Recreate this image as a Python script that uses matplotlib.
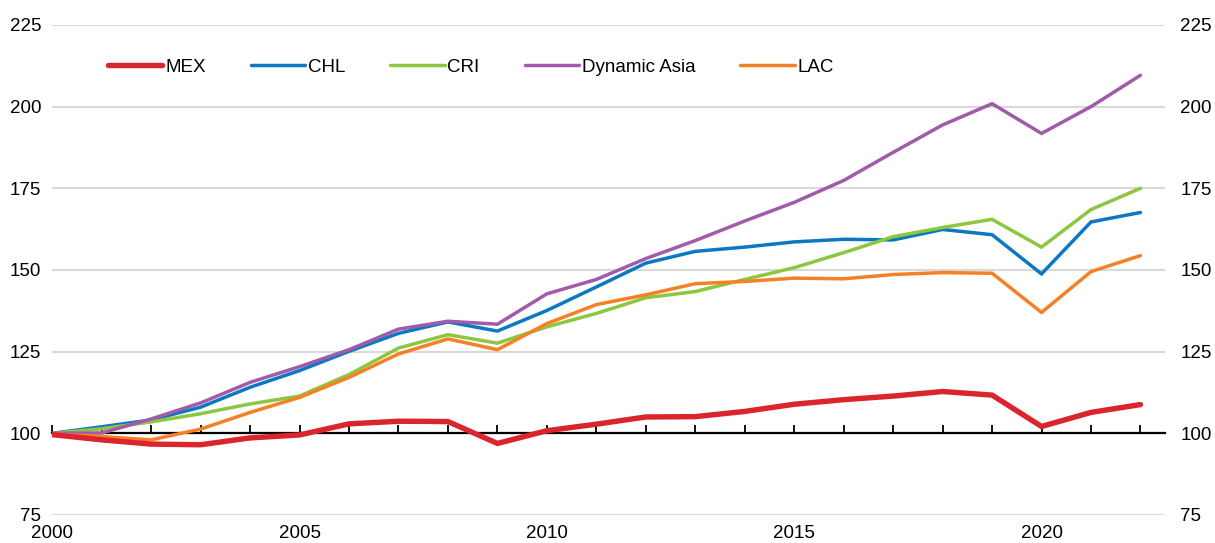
import matplotlib
matplotlib.use('Agg')
import matplotlib.pyplot as plt

years = list(range(2000, 2023))

mex = [99.6, 98.0, 96.7, 96.5, 98.6, 99.5, 102.9, 103.7, 103.6, 96.9, 100.8,
       102.8, 105.0, 105.1, 106.7, 108.9, 110.3, 111.4, 112.8, 111.7, 102.1,
       106.4, 108.8]
chl = [100.0, 102.0, 104.1, 108.0, 114.1, 119.2, 125.1, 130.6, 134.1, 131.3,
       137.6, 144.8, 152.1, 155.7, 157.0, 158.6, 159.4, 159.2, 162.4, 160.8,
       148.8, 164.7, 167.6]
cri = [100.0, 101.4, 103.5, 106.0, 109.0, 111.4, 118.0, 126.1, 130.2, 127.6,
       132.6, 136.7, 141.5, 143.4, 147.1, 150.7, 155.3, 160.2, 163.0, 165.5,
       157.0, 168.5, 175.0]
asia = [100.0, 100.1, 104.4, 109.3, 115.6, 120.4, 125.6, 131.9, 134.3, 133.4,
        142.7, 147.1, 153.5, 159.0, 165.0, 170.7, 177.4, 186.0, 194.4, 200.9,
        191.8, 200.0, 209.6]
lac = [99.8, 99.0, 98.0, 101.3, 106.4, 111.0, 117.1, 124.3, 128.9, 125.6,
       133.6, 139.4, 142.4, 145.8, 146.5, 147.5, 147.3, 148.6, 149.2, 149.0,
       137.0, 149.5, 154.4]

series = [
    ('MEX', mex, '#DA252C', 3.9),
    ('CHL', chl, '#0A78C2', 2.5),
    ('CRI', cri, '#8DC63F', 2.5),
    ('Dynamic Asia', asia, '#A15BAA', 2.5),
    ('LAC', lac, '#F58025', 2.5),
]

y_ticks = [75, 100, 125, 150, 175, 200, 225]
x_ticks = [2000, 2005, 2010, 2015, 2020]

plt.rcParams['font.family'] = ['Liberation Sans', 'DejaVu Sans']
fs = 13.5

fig = plt.figure(figsize=(12.15, 5.43), dpi=100)
ax = fig.add_axes([0.043, 0.0516, 0.916, 0.9024])

# thin lines first, MEX on top
for name, vals, color, lw in series[1:]:
    ax.plot(years, vals, color=color, lw=lw, label=name,
            solid_capstyle='round', solid_joinstyle='miter', zorder=3)
name, vals, color, lw = series[0]
ax.plot(years, vals, color=color, lw=lw, label=name,
        solid_capstyle='round', solid_joinstyle='miter', zorder=4)

ax.set_xlim(2000, 2022.5)
ax.set_ylim(75, 225)
ax.set_yticks(y_ticks)
ax.set_xticks(x_ticks)
ax.set_xticklabels([str(x) for x in x_ticks])
ax.tick_params(axis='x', length=0, pad=7, labelsize=fs)
ax.tick_params(axis='y', length=0, pad=8, labelsize=fs)
ax.yaxis.grid(True, color='#D9D9D9', lw=1.5)
ax.set_axisbelow(True)
for s in ax.spines.values():
    s.set_visible(False)

# right side labels
ax2 = ax.twinx()
ax2.set_ylim(75, 225)
ax2.set_yticks(y_ticks)
ax2.tick_params(axis='y', length=0, pad=11, labelsize=fs)
for s in ax2.spines.values():
    s.set_visible(False)

# black axis at 100 with a tick every year
base = ax.secondary_xaxis((100 - 75) / (225 - 75))
base.set_xticks(years)
base.tick_params(axis='x', direction='in', length=6, width=1.3,
                 labelbottom=False, color='black')
base.spines['bottom'].set_color('black')
base.spines['bottom'].set_linewidth(1.6)
base.set_zorder(2)

handles, labels = ax.get_legend_handles_labels()
order = [labels.index(s[0]) for s in series]
ax.legend([handles[i] for i in order], [labels[i] for i in order],
          loc='center left', bbox_to_anchor=(0.05, 0.914), ncol=5,
          frameon=False, handlelength=2.9, handletextpad=0.15,
          columnspacing=2.4, fontsize=fs, borderaxespad=0, borderpad=0)

fig.savefig('out.png', dpi=100)
